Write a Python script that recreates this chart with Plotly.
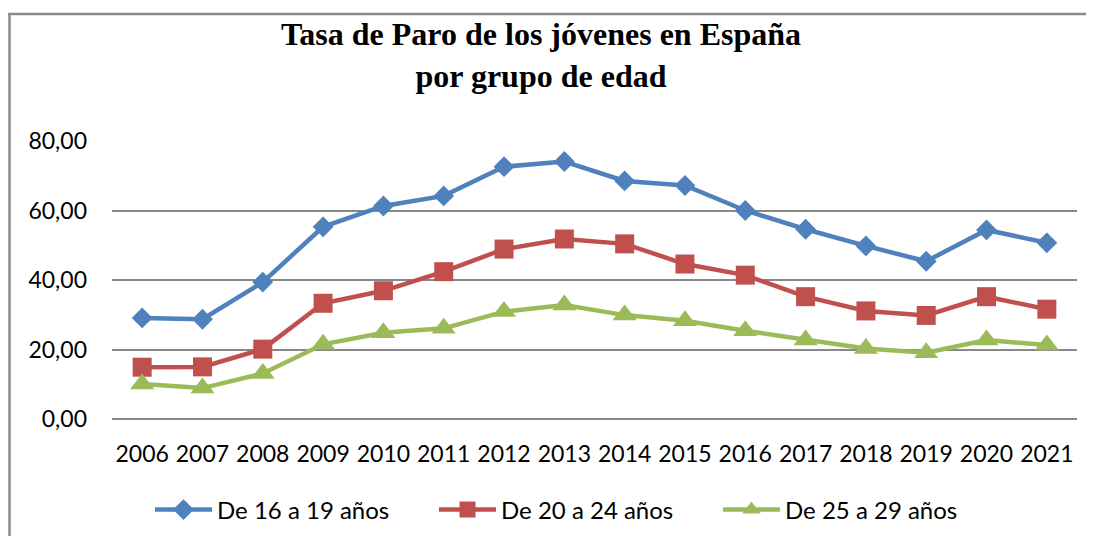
import plotly.graph_objects as go

years = ["2006", "2007", "2008", "2009", "2010", "2011", "2012", "2013",
         "2014", "2015", "2016", "2017", "2018", "2019", "2020", "2021"]
grupo_16_19 = [29.1, 28.7, 39.4, 55.3, 61.3, 64.2, 72.6, 74.1,
               68.5, 67.2, 60.0, 54.6, 49.8, 45.4, 54.4, 50.7]
grupo_20_24 = [14.9, 15.0, 20.1, 33.3, 36.9, 42.4, 48.9, 51.8,
               50.4, 44.6, 41.4, 35.2, 31.1, 29.8, 35.2, 31.6]
grupo_25_29 = [10.1, 8.9, 13.1, 21.5, 24.8, 26.1, 30.9, 32.8,
               29.9, 28.3, 25.4, 22.7, 20.3, 19.1, 22.7, 21.3]
series_names = ["De 16 a 19 años", "De 20 a 24 años", "De 25 a 29 años"]
y_ticks = [0, 20, 40, 60, 80]

# page body has an 8px margin; work in figure pixels
W, H = 1086, 528
L, R, T, B = 104, 17, 133, 117
pw, ph = W - L - R, H - T - B

def px_x(p):
    return (p - L) / pw

def px_y(p):
    return (H - B - p) / ph

fig = go.Figure()
styles = [
    ("#4F81BD", "diamond", 16),
    ("#C0504D", "square", 19),
    ("#9BBB59", "triangle-up", 21),
]
for vals, name, (col, sym, sz) in zip([grupo_16_19, grupo_20_24, grupo_25_29], series_names, styles):
    fig.add_trace(go.Scatter(
        x=years, y=vals, name=name, mode="lines+markers",
        line=dict(color=col, width=4.5),
        marker=dict(symbol=sym, size=sz, color=col),
    ))

fig.update_layout(
    width=W, height=H,
    margin=dict(l=L, r=R, t=T, b=B, autoexpand=False),
    paper_bgcolor="white", plot_bgcolor="white",
    separators=",.",
    title=dict(
        text="Tasa de Paro de los jóvenes en España<br>por grupo de edad",
        font=dict(family="Liberation Serif", size=32, color="black", weight="bold"),
        x=533 / W, xanchor="center", xref="container",
        y=1 - 37 / H, yanchor="top", yref="container",
    ),
    font=dict(family="Lato", size=23, color="black"),
    showlegend=True,
    legend=dict(
        orientation="h", x=px_x(142), xanchor="left",
        y=px_y(502), yanchor="middle",
        itemwidth=57, entrywidth=212, entrywidthmode="pixels",
        font=dict(family="Lato", size=24, color="black"),
        bgcolor="rgba(0,0,0,0)",
    ),
    xaxis=dict(
        type="category", range=[-0.5, 15.5], showgrid=False,
        showline=False, zeroline=False, ticks="",
        tickfont=dict(family="Lato", size=23), ticklabelstandoff=19,
    ),
    yaxis=dict(
        range=[0, 80], tickvals=y_ticks, tickformat=".2f",
        showgrid=True, gridcolor="#888888", gridwidth=1.5,
        zeroline=True, zerolinecolor="#888888", zerolinewidth=1.5,
        showline=False, ticks="",
        tickfont=dict(family="Lato", size=23), ticklabelstandoff=24,
    ),
    shapes=[
        dict(type="line", xref="paper", yref="paper",
             x0=px_x(1.5), x1=px_x(1.5), y0=px_y(H + 5), y1=px_y(5),
             line=dict(color="#8a8a8a", width=2.5)),
        dict(type="line", xref="paper", yref="paper",
             x0=px_x(0.3), x1=px_x(W), y0=px_y(6), y1=px_y(6),
             line=dict(color="#8a8a8a", width=2.5)),
    ],
)

fig.write_html("out.html")
